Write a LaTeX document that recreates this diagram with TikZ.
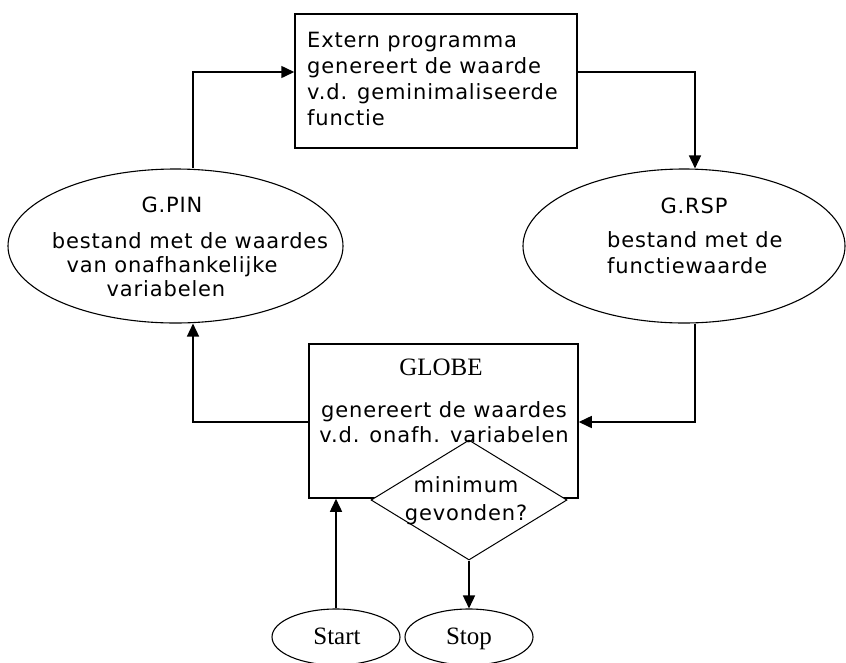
\documentclass[tikz,border=0pt]{standalone}
\usepackage{fontspec}
\usetikzlibrary{shapes.geometric,arrows.meta}
\newfontfamily\uifont[LetterSpace=4]{DejaVu Sans}
\newfontfamily\titlefont{Liberation Serif}

\tikzset{
  box/.style={draw, rectangle, line width=1.5pt, inner sep=0pt, fill=white},
  oval/.style={draw, ellipse, line width=1.1pt, inner sep=0pt},
  decision/.style={draw, diamond, line width=1pt, inner sep=0pt, fill=white},
  flow/.style={line width=1.5pt, -{Triangle[length=13pt,width=12pt]}},
  txt/.style={inner sep=0pt, font=\uifont\fontsize{21}{26}\selectfont},
  ttl/.style={inner sep=0pt, font=\titlefont\fontsize{25}{30}\selectfont},
}

\begin{document}
\begin{tikzpicture}[x=1pt, y=-1pt]
  \useasboundingbox (0,0) rectangle (846,662);

  % shapes
  \node[box, minimum width=282pt, minimum height=134pt] (prog) at (436,81) {};
  \node[oval, minimum width=335pt, minimum height=154pt] (pin) at (175.5,246) {};
  \node[oval, minimum width=322pt, minimum height=154pt] (rsp) at (684,246) {};
  \node[box, minimum width=269pt, minimum height=154pt] (globe) at (443.5,421) {};
  \node[decision, minimum width=196pt, minimum height=120pt] (dia) at (469,500) {};
  \node[oval, minimum width=128pt, minimum height=56pt] (start) at (336,637) {};
  \node[oval, minimum width=128pt, minimum height=56pt] (stop) at (469,637) {};

  % bend points of the loop
  \coordinate (c1) at (193,72);
  \coordinate (c2) at (695,72);
  \coordinate (c3) at (695,422);
  \coordinate (c4) at (193,422);

  % connectors
  \draw[flow] (pin.north -| c1) -- (c1) -- (prog.west |- c1);
  \draw[flow] (prog.east |- c2) -- (c2) -- (rsp.north -| c2);
  \draw[flow] (rsp.south -| c3) -- (c3) -- (globe.east |- c3);
  \draw[flow] (globe.west |- c4) -- (c4) -- (pin.south -| c4);
  \draw[flow] (start.north) -- (start.north |- globe.south);
  \draw[flow] (dia.south) -- (stop.north);

  % texts: external program
  \node[txt, anchor=base west] (p1) at (307,47) {Extern programma};
  \node[txt, anchor=base west] (p2) at (307,73) {genereert de waarde};
  \node[txt, anchor=base west] (p3) at (307,99) {v.d. geminimaliseerde};
  \node[txt, anchor=base west] (p4) at (307,125) {functie};

  % texts: G.PIN
  \node[txt, anchor=base] (i0) at (172,212) {G.PIN};
  \node[txt, anchor=base] (i1) at (190,248) {bestand met de waardes};
  \node[txt, anchor=base] (i2) at (172,272) {van onafhankelijke};
  \node[txt, anchor=base] (i3) at (166,296) {variabelen};

  % texts: G.RSP
  \node[txt, anchor=base] (r0) at (694,213) {G.RSP};
  \node[txt, anchor=base west] (r1) at (607,247) {bestand met de};
  \node[txt, anchor=base west] (r2) at (607,273) {functiewaarde};

  % texts: GLOBE
  \node[ttl, anchor=base] (g0) at (441,375) {GLOBE};
  \node[txt, anchor=base] (g1) at (444,417) {genereert de waardes};
  \node[txt, anchor=base] (g2) at (444,442) {v.d. onafh. variabelen};

  % texts: decision
  \node[txt, anchor=base] (d1) at (466,492) {minimum};
  \node[txt, anchor=base] (d2) at (466,520) {gevonden?};

  % texts: terminals
  \node[ttl, anchor=base] (s1) at (337,644) {Start};
  \node[ttl, anchor=base] (s2) at (469,644) {Stop};
\end{tikzpicture}
\end{document}
